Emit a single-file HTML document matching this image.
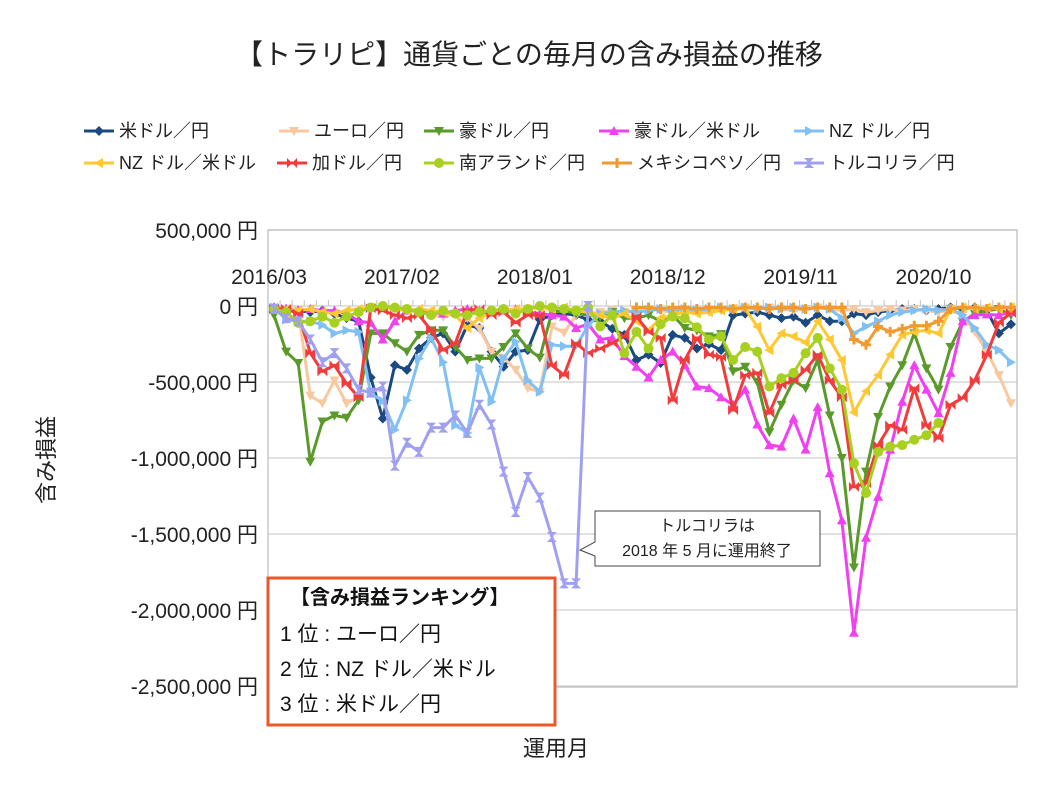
<!DOCTYPE html>
<html><head><meta charset="utf-8">
<style>
body{margin:0;background:#fff;}
svg text{font-family:"Liberation Sans","Noto Sans CJK JP",sans-serif;}
</style></head>
<body>
<svg id="chart" width="1058" height="794" viewBox="0 0 1058 794" xmlns="http://www.w3.org/2000/svg">
<rect width="1058" height="794" fill="#fff"/>
<text x="529" y="64" font-size="28" text-anchor="middle" fill="#222">【トラリピ】通貨ごとの毎月の含み損益の推移</text>
<g id="legend"></g>
<g id="grid"></g>
<g id="yaxis"></g>
<g id="xaxis"></g>
<g id="series"></g>
<text transform="translate(54,460) rotate(-90)" font-size="22" text-anchor="middle" fill="#222">含み損益</text>
<text x="556" y="756" font-size="22" text-anchor="middle" fill="#222">運用月</text>
<g>
<path d="M595,511 L820,511 L820,566 L595,566 L595,556 L580,550 L595,542 Z" fill="#fff" stroke="#444" stroke-width="1"/>
<text x="707" y="531" font-size="16" text-anchor="middle" fill="#222">トルコリラは</text>
<text x="707" y="556" font-size="16" text-anchor="middle" fill="#222">2018 年 5 月に運用終了</text>
</g>
<g>
<rect x="268" y="578" width="287" height="147" fill="#fff" stroke="#e8582a" stroke-width="3"/>
<text x="290" y="604" font-size="20" font-weight="bold" fill="#111">【含み損益ランキング】</text>
<text x="280" y="641" font-size="21" fill="#111">1 位 : ユーロ／円</text>
<text x="280" y="676" font-size="21" fill="#111">2 位 :  NZ ドル／米ドル</text>
<text x="280" y="711" font-size="21" fill="#111">3 位 : 米ドル／円</text>
</g>
</svg>
<script>
const xLabels=["2016/03","2017/02","2018/01","2018/12","2019/11","2020/10"];
const xLabelIdx=[0,11,22,33,44,55];
const yTicks=[500000,0,-500000,-1000000,-1500000,-2000000,-2500000];
const yTickLabels=["500,000 円","0 円","-500,000 円","-1,000,000 円","-1,500,000 円","-2,000,000 円","-2,500,000 円"];
const seriesNames=["米ドル／円","ユーロ／円","豪ドル／円","豪ドル／米ドル","NZ ドル／円","NZ ドル／米ドル","加ドル／円","南アランド／円","メキシコペソ／円","トルコリラ／円"];
const usdjpy=[-10,-20,-30,-40,-30,-50,-80,-100,-470,-740,-390,-420,-280,-210,-180,-300,-125,-145,-300,-400,-300,-290,-90,-60,-50,-60,-90,-100,-150,-190,-355,-320,-375,-190,-210,-280,-250,-290,-60,-50,-40,-60,-80,-70,-110,-60,-100,-100,-50,-60,-40,-30,-20,-20,-30,-20,-10,-20,-10,-30,-180,-120];
const eurjpy=[-10,-20,-30,-590,-640,-490,-640,-600,-20,-10,-20,-30,-40,-60,-70,-50,-80,-150,-300,-340,-420,-540,-565,-135,-175,-60,-50,-40,-30,-40,-30,-20,-30,-40,-20,-30,-40,-30,-20,-10,-20,-10,-20,-30,-20,-10,-20,-30,-20,-40,-30,-20,-30,-20,-30,-40,-30,-60,-170,-300,-455,-640];
const audjpy=[-60,-300,-375,-1025,-760,-720,-735,-620,-180,-180,-245,-300,-190,-160,-160,-270,-355,-345,-345,-270,-180,-280,-340,-40,-30,-50,-60,-70,-40,-80,-80,-60,-100,-60,-145,-160,-200,-185,-430,-400,-500,-830,-650,-490,-540,-355,-720,-1000,-1720,-1090,-730,-530,-390,-180,-410,-550,-270,-105,-50,-30,-20,-60];
const audusd=[-10,-20,-30,-20,-30,-30,-50,-100,-110,-220,-100,-30,-30,-40,-50,-30,-20,-30,-40,-30,-20,-40,-50,-60,-70,-145,-120,-220,-210,-330,-400,-470,-355,-300,-390,-530,-540,-600,-650,-550,-780,-915,-925,-740,-945,-665,-1100,-1410,-2150,-1525,-1255,-945,-630,-390,-550,-705,-440,-100,-60,-55,-60,-40];
const nzdjpy=[-10,-90,-100,-100,-125,-180,-160,-170,-575,-625,-815,-620,-345,-210,-370,-785,-835,-405,-630,-345,-235,-490,-565,-255,-265,-265,-130,-50,-40,-30,-40,-30,-20,-30,-20,-30,-20,-10,-20,-10,-20,-10,-20,-10,-20,-10,-20,-80,-180,-135,-100,-60,-40,-30,-20,-30,-20,-60,-145,-255,-290,-370];
const nzdusd=[-10,-20,-30,-20,-40,-50,-30,-20,-10,-10,-20,-30,-20,-30,-40,-60,-145,-80,-40,-30,-20,-20,-10,-20,-10,-30,-40,-60,-80,-50,-100,-160,-80,-60,-40,-50,-40,-30,-20,-20,-135,-290,-180,-200,-240,-100,-220,-355,-700,-560,-455,-320,-190,-170,-160,-180,-20,-10,-20,-10,-20,-10];
const cadjpy=[-20,-20,-50,-310,-430,-390,-510,-600,-15,-30,-60,-80,-60,-160,-290,-245,-30,-20,-60,-40,-110,-60,-60,-390,-455,-245,-310,-280,-245,-200,-70,-170,-210,-620,-355,-210,-320,-335,-685,-455,-440,-705,-520,-490,-420,-320,-490,-600,-1190,-1165,-915,-785,-815,-540,-785,-870,-650,-605,-490,-320,-110,-45];
const zarjpy=[-20,-40,-110,-100,-70,-110,-70,-40,-10,0,-10,-20,-40,-60,-30,-50,-60,-40,-30,-20,-50,-20,0,-10,-20,-30,-10,-135,-60,-310,-170,-280,-120,-70,-80,-140,-220,-200,-355,-270,-300,-530,-475,-440,-310,-210,-410,-550,-1035,-1230,-960,-925,-915,-880,-850,-770,null,null,null,null,null,null];
const mxnjpy=[null,null,null,null,null,null,null,null,null,null,null,null,null,null,null,null,null,null,null,null,null,null,null,null,null,null,null,null,null,null,-10,-10,-20,-10,-10,-20,-10,-10,-20,-10,-10,-20,-10,-10,-20,-10,-10,-10,-220,-255,-135,-170,-150,-130,-130,-100,-20,-10,-10,-20,-10,-10];
const tryjpy=[-20,-80,-100,-220,-370,-310,-410,-550,-570,-530,-1050,-900,-960,-800,-800,-720,-835,-650,-780,-1090,-1355,-1125,-1260,-1520,-1825,-1825,0];

const NS="http://www.w3.org/2000/svg";
const L=268,R=1017,T=230,B=687,N=62;
const step=(R-L)/N;
function xs(i){return L+step/2+step*i;}
function ys(v){return 306-v*76/500000;}
function mk(tag,at,p){const e=document.createElementNS(NS,tag);for(const k in at)e.setAttribute(k,at[k]);p.appendChild(e);return e;}
const grid=document.getElementById('grid'),yax=document.getElementById('yaxis'),xax=document.getElementById('xaxis'),sg=document.getElementById('series'),lg=document.getElementById('legend');
yTicks.forEach((t,k)=>{
  const g=mk('line',{x1:L,x2:R,y1:ys(t),y2:ys(t),stroke:'#cfcfcf','stroke-width':1.3},grid);
  
  
  const tx=mk('text',{x:258,y:ys(t)+8,'font-size':21,'text-anchor':'end',fill:'#222'},yax);
  tx.textContent=yTickLabels[k];
  
  
});
const fr=mk('rect',{x:L,y:T,width:R-L,height:B-T,fill:'none',stroke:'#bfbfbf','stroke-width':1.3},grid);


for(let i=0;i<=N;i++){mk('line',{x1:L+step*i,x2:L+step*i,y1:306,y2:300,stroke:'#bfbfbf'},xax);}
xLabels.forEach((s,k)=>{
  const tx=mk('text',{x:xs(xLabelIdx[k])-5,y:284,'font-size':21,'text-anchor':'middle',fill:'#222'},xax);
  tx.textContent=s;
  
  
});
const colors=["#1a4a80","#f8c8a0","#5a9a2a","#f040f0","#80c0f4","#ffc830","#f03c3c","#a8d020","#f29a30","#a0a0f0"];
const shapes=["diamond","tdown","tdown","tup","tright","tleft","bowh","circle","plus","bowv"];
const data=[usdjpy,eurjpy,audjpy,audusd,nzdjpy,nzdusd,cadjpy,zarjpy,mxnjpy,tryjpy];
function marker(p,x,y,s,c,r){
  let d;
  if(s==="circle"){return mk('circle',{cx:x,cy:y,r:r,fill:c},p);}
  if(s==="diamond")d=`M${x},${y-r}L${x+r},${y}L${x},${y+r}L${x-r},${y}Z`;
  if(s==="tdown")d=`M${x-r},${y-r*0.8}L${x+r},${y-r*0.8}L${x},${y+r}Z`;
  if(s==="tup")d=`M${x-r},${y+r*0.8}L${x+r},${y+r*0.8}L${x},${y-r}Z`;
  if(s==="tright")d=`M${x-r*0.8},${y-r}L${x-r*0.8},${y+r}L${x+r},${y}Z`;
  if(s==="tleft")d=`M${x+r*0.8},${y-r}L${x+r*0.8},${y+r}L${x-r},${y}Z`;
  if(s==="bowh")d=`M${x-r},${y-r}L${x+r},${y+r}L${x+r},${y-r}L${x-r},${y+r}Z`;
  if(s==="bowv")d=`M${x-r},${y-r}L${x+r},${y-r}L${x-r},${y+r}L${x+r},${y+r}Z`;
  if(s==="plus")d=`M${x-r},${y-1.5}h${2*r}v3h${-2*r}ZM${x-1.5},${y-r}h3v${2*r}h-3Z`;
  return mk('path',{d:d,fill:c},p);
}
data.forEach((arr,si)=>{
  const g=mk('g',{},sg);
  
  
  let d='';let pen=false;
  arr.forEach((v,i)=>{if(v===null){pen=false;return;}d+=(pen?'L':'M')+xs(i).toFixed(1)+','+ys(v*1000).toFixed(1);pen=true;});
  const ln=mk('path',{d:d,fill:'none',stroke:colors[si],'stroke-width':3,'stroke-linejoin':'round'},g);
  
  
  arr.forEach((v,i)=>{if(v===null)return;const m=marker(g,xs(i),ys(v*1000),shapes[si],colors[si],5);
    
    });
});
const legX=[92,287,432,607,802,92,285,432,610,802];
legX.forEach((x,k)=>{
  const y=k<5?131:163;
  const g=mk('g',{},lg);
  
  
  mk('line',{x1:x-8,x2:x+22,y1:y,y2:y,stroke:colors[k],'stroke-width':3},g);
  marker(g,x+7,y,shapes[k],colors[k],5);
  const t=mk('text',{x:x+27,y:y+6,'font-size':18,fill:'#222'},g);
  t.textContent=seriesNames[k];
});
</script>
</body></html>
